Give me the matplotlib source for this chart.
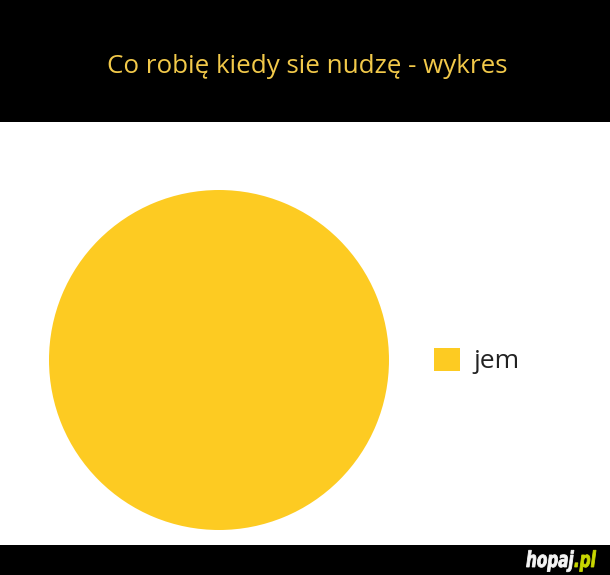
import matplotlib.pyplot as plt
from matplotlib.patches import Rectangle, PathPatch
from matplotlib.textpath import TextPath
from matplotlib.font_manager import FontProperties
from matplotlib.transforms import Affine2D

labels = ['jem']
values = [100]
title = 'Co robię kiedy sie nudzę - wykres'

W, H = 610, 575
pie_color = '#FDCB22'
title_color = '#F2C94A'

plt.rcParams['font.family'] = ['Open Sans', 'DejaVu Sans']

fig = plt.figure(figsize=(W / 100, H / 100), dpi=100)
fig.patch.set_facecolor('white')

# black bands top and bottom
fig.patches.append(Rectangle((0, 1 - 122 / H), 1, 122 / H, transform=fig.transFigure,
                             facecolor='black', edgecolor='none', zorder=0))
fig.patches.append(Rectangle((0, 0), 1, 30 / H, transform=fig.transFigure,
                             facecolor='black', edgecolor='none', zorder=0))

fig.text(307 / W, 1 - 67 / H, title, color=title_color, fontsize=18.7,
         ha='center', va='center')

# watermark, condensed bold italic drawn as paths squeezed horizontally
fp = FontProperties(family='DejaVu Sans', weight='bold', style='italic')
p1 = TextPath((0, 0), 'hopaj', size=22, prop=fp)
p2 = TextPath((0, 0), '.pl', size=22, prop=fp)
w1 = p1.get_extents().x1
w2 = p2.get_extents().x1
sx = 70 / (w1 + w2)
x0, y0 = 526, H - 567
fig.patches.append(PathPatch(p1, facecolor='#F4F4F4', edgecolor='#F4F4F4', linewidth=0.6,
                             transform=Affine2D().scale(sx, 1).translate(x0, y0)))
fig.patches.append(PathPatch(p2, facecolor='#C8D600', edgecolor='#C8D600', linewidth=0.6,
                             transform=Affine2D().scale(sx, 1).translate(x0 + w1 * sx, y0)))

ax = fig.add_axes([49 / W, 45 / H, 340 / W, 340 / H])
wedges, _ = ax.pie(values, colors=[pie_color], startangle=90, counterclock=False,
                   radius=1, wedgeprops=dict(linewidth=0))
ax.set_xlim(-1, 1)
ax.set_ylim(-1, 1)
ax.axis('off')

leg = fig.legend(wedges, labels, loc='center left', bbox_to_anchor=(434 / W, 1 - 361 / H),
                 frameon=False, fontsize=19, handlelength=0.98, handleheight=0.95,
                 handletextpad=0.5, borderpad=0, borderaxespad=0)
for t in leg.get_texts():
    t.set_color('#222222')

fig.savefig('out.png', dpi=100)
